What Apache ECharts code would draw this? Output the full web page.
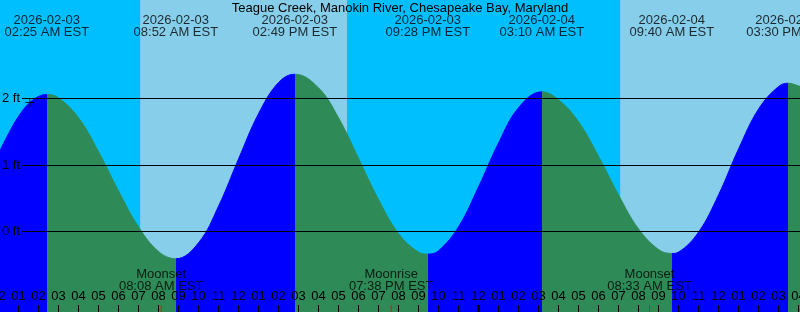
<!DOCTYPE html>
<html><head><meta charset="utf-8">
<script src="https://cdn.jsdelivr.net/npm/echarts@6/dist/echarts.min.js"></script>
<style>html,body{margin:0;padding:0;background:#00BFFF;overflow:hidden}#c{width:800px;height:312px}</style>
</head><body><div id="c"></div><script>
// ---------------- data ----------------
const chartTitle = 'Teague Creek, Manokin River, Chesapeake Bay, Maryland';
const baseDate = '2026-02-03';           // hour 0 = 2026-02-03 00:00 EST
// tide curve samples (hours since baseDate 00:00, height in ft)
const tideHours = [0, 0.5, 1, 1.5, 2, 2.417, 3, 4, 5, 6, 7, 8, 8.867, 10, 11, 12, 13, 14, 14.817, 16, 17, 18, 19, 20, 21, 21.467, 22, 23, 24, 25, 26, 27.167, 28, 29, 30, 31, 32, 33, 33.667, 34, 35, 36, 37, 38, 39, 39.5, 40, 40.1];
const tideFeet  = [1.17, 1.47, 1.73, 1.92, 2.03, 2.06, 2.01, 1.71, 1.20, 0.61, 0.07, -0.30, -0.41, -0.17, 0.38, 1.09, 1.77, 2.24, 2.365, 2.16, 1.71, 1.10, 0.48, -0.03, -0.31, -0.34, -0.29, 0.07, 0.67, 1.33, 1.86, 2.10, 1.98, 1.65, 1.13, 0.55, 0.04, -0.27, -0.33, -0.31, -0.01, 0.55, 1.24, 1.84, 2.18, 2.23, 2.19, 2.18];
// tide events
const tideEventDate = ['2026-02-03', '2026-02-03', '2026-02-03', '2026-02-03', '2026-02-04', '2026-02-04', '2026-02-04'];
const tideEventTime = ['02:25 AM', '08:52 AM', '02:49 PM', '09:28 PM', '03:10 AM', '09:40 AM', '03:30 PM'];
const tideEventType = ['high', 'low', 'high', 'low', 'high', 'low', 'high'];
// moon events
const moonEventName = ['Moonset', 'Moonrise', 'Moonset'];
const moonEventDate = ['2026-02-03', '2026-02-03', '2026-02-04'];
const moonEventTime = ['08:08 AM', '07:38 PM', '08:33 AM'];
// sun (day shading)
const sunriseDate = ['2026-02-03', '2026-02-04'];
const sunriseTime = ['07:05 AM', '07:05 AM'];
const sunsetDate  = ['2026-02-03'];
const sunsetTime  = ['05:26 PM'];
// current-time mark
const nowDate = ['2026-02-03'];
const nowTime = ['01:34 AM'];
const nowFeet = [1.94];
// y gridline levels (ft)
const levelFeet = [0, 1, 2];

// ---------------- helpers ----------------
function hoursOf(date, time) {
  const day = Math.round((Date.parse(date + 'T00:00:00Z') - Date.parse(baseDate + 'T00:00:00Z')) / 86400000);
  const m = /(\d+):(\d+)\s*(AM|PM)/.exec(time);
  let h = (+m[1]) % 12 + (m[3] === 'PM' ? 12 : 0);
  return day * 24 + h + (+m[2]) / 60;
}
const NIGHT = '#00BFFF', DAY = '#87CEEB', RISE = '#0000FF', FALL = '#2E8B57';
const FONT = 'Liberation Sans', FS = 13;
const xMin = 0, xMax = 40.075, yMin = -1.2105, yMax = 3.4812;

const tideData = tideHours.map((t, i) => [t, tideFeet[i]]);
const eventH = tideEventDate.map((d, i) => hoursOf(d, tideEventTime[i]));
const moonH = moonEventDate.map((d, i) => hoursOf(d, moonEventTime[i]));
const riseH = sunriseDate.map((d, i) => hoursOf(d, sunriseTime[i]));
const setH = sunsetDate.map((d, i) => hoursOf(d, sunsetTime[i]));

// rising / falling colour pieces
const pieces = [];
let prev = -100;
eventH.forEach((h, i) => {
  pieces.push({ gte: prev, lt: h, color: tideEventType[i] === 'high' ? RISE : FALL });
  prev = h;
});
pieces.push({ gte: prev, lte: 100, color: tideEventType[tideEventType.length - 1] === 'high' ? FALL : RISE });

// day/night bands
const bounds = [{ h: xMin, kind: riseH[0] < setH[0] ? 'night' : 'day' }];
riseH.forEach(h => bounds.push({ h, kind: 'day' }));
setH.forEach(h => bounds.push({ h, kind: 'night' }));
bounds.sort((a, b) => a.h - b.h);
const bands = bounds.map((b, i) => [
  { xAxis: b.h, itemStyle: { color: b.kind === 'day' ? DAY : NIGHT, opacity: 1 } },
  { xAxis: i + 1 < bounds.length ? bounds[i + 1].h : xMax }
]);

// midnight ticks
const midnights = [];
for (let d = 24; d < xMax; d += 24) midnights.push([d, yMin]);

const pad = n => (n < 10 ? '0' : '') + n;
const gridStartHour = xMin + 23.5 / 20; // gridlines begin at ~x=22px

const txt = { fontFamily: FONT, fontSize: FS, color: '#000' };

const option = {
  animation: false,
  backgroundColor: NIGHT,
  title: {
    text: chartTitle, left: 'center', top: 1.5, padding: 0,
    textStyle: { fontFamily: FONT, fontSize: FS, fontWeight: 'normal', color: '#000', lineHeight: 13 }
  },
  grid: { left: -1.5, right: 0, top: 0, bottom: 0, containLabel: false, outerBoundsMode: 'none' },
  xAxis: {
    type: 'value', min: xMin, max: xMax, interval: 1, z: 12,
    axisLine: { show: false, onZero: false },
    splitLine: { show: false },
    axisTick: { show: true, inside: true, length: 7, lineStyle: { color: '#000', width: 1 } },
    axisLabel: {
      show: true, inside: true, margin: 9, interval: 0, showMinLabel: true, showMaxLabel: true,
      ...txt,
      formatter: v => {
        if (Math.abs(v - Math.round(v)) > 1e-6) return '';
        const h = Math.round(v) % 12;
        return pad(h === 0 ? 12 : h);
      }
    }
  },
  yAxis: { type: 'value', min: yMin, max: yMax, show: false, splitLine: { show: false } },
  visualMap: {
    show: false, type: 'piecewise', dimension: 0, seriesIndex: 0, pieces
  },
  series: [
    {
      type: 'line', data: tideData, smooth: 0.4, symbol: 'none', z: 3,
      lineStyle: { width: 1 },
      areaStyle: { origin: 'start', opacity: 1 },
      silent: true,
      markArea: { silent: true, z: 1, data: bands },
      markLine: {
        silent: true, symbol: ['none', 'none'], z: 5,
        lineStyle: { color: '#000', width: 1, type: 'solid' },
        label: { show: true, position: 'start', distance: 2, ...txt, formatter: p => p.data.level + ' ft' },
        emphasis: { disabled: true },
        data: levelFeet.map(v => [
          { coord: [gridStartHour, v], level: v },
          { coord: [xMax, v] }
        ])
      }
    },
    {
      type: 'scatter', clip: false, z: 10, silent: true,
      data: eventH.map(h => [h, yMax]),
      symbolSize: 1, itemStyle: { color: 'rgba(0,0,0,0)' },
      label: {
        show: true, position: 'bottom', distance: 14, ...txt, lineHeight: 12, align: 'center',
        formatter: p => tideEventDate[p.dataIndex] + '\n' + tideEventTime[p.dataIndex] + ' EST'
      }
    },
    {
      type: 'scatter', clip: false, z: 10, silent: true,
      data: moonH.map(h => [h, yMin]),
      symbolSize: 1, itemStyle: { color: 'rgba(0,0,0,0)' },
      label: {
        show: true, position: 'top', distance: 19, ...txt, lineHeight: 12, align: 'center',
        formatter: p => moonEventName[p.dataIndex] + '\n' + moonEventTime[p.dataIndex] + ' EST'
      }
    },
    {
      type: 'scatter', z: 13, silent: true,
      data: midnights, symbol: 'rect', symbolSize: [3, 14], itemStyle: { color: '#000' }
    },
    {
      type: 'scatter', z: 13, silent: true,
      data: moonH.map(h => [h, yMin]), symbol: 'rect', symbolSize: [1, 14], itemStyle: { color: '#FF0000' }
    },
    {
      type: 'scatter', z: 9, silent: true,
      data: nowDate.map((d, i) => [hoursOf(d, nowTime[i]), nowFeet[i]]),
      symbol: 'path://M4,0h1v9h-1zM0,4h9v1h-9z', symbolSize: 9, itemStyle: { color: '#000' }
    }
  ]
};
const chart = echarts.init(document.getElementById('c'), null, { width: 800, height: 312 });
chart.setOption(option);
</script></body></html>
